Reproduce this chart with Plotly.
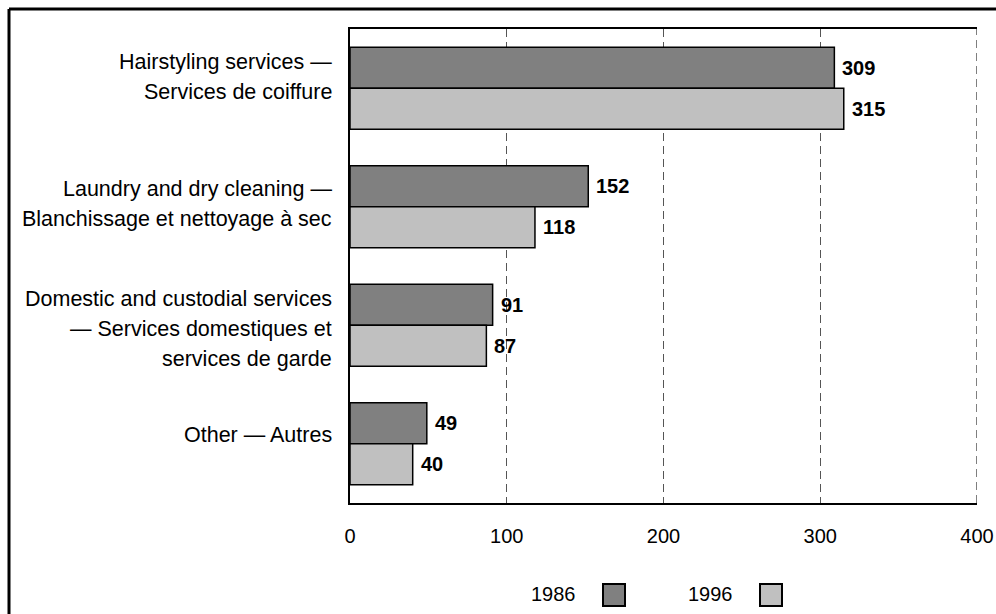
import plotly.graph_objects as go

# Categories (bilingual labels, one entry per line of text)
categories = [
    ["Hairstyling services —", "Services de coiffure"],
    ["Laundry and dry cleaning —", "Blanchissage et nettoyage à sec"],
    ["Domestic and custodial services", "— Services domestiques et", "services de garde"],
    ["Other — Autres"],
]
series_names = ["1986", "1996"]
values_1986 = [309, 152, 91, 49]
values_1996 = [315, 118, 87, 40]
x_ticks = [0, 100, 200, 300, 400]

series_values = [values_1986, values_1996]
series_colors = ["#808080", "#C0C0C0"]

# Figure geometry (pixels)
FIG_W, FIG_H = 996, 614
L, R, T, B = 350, 19, 29, 111
PW, PH = FIG_W - L - R, FIG_H - T - B
BARGAP = 0.31
FONT = "Liberation Sans, Arial, sans-serif"
LINE_PX = 30
GRID_COLOR = "#555555"
GRID_DASH = "8px,5px"
label_nudge_px = [-11, -3, 4, -9]


def px_x(px):
    return (px - L) / PW


def px_y(py):
    return 1 - (py - T) / PH


positions = list(range(len(categories)))

fig = go.Figure()
for name, vals, color in zip(series_names, series_values, series_colors):
    fig.add_trace(go.Bar(
        y=positions, x=vals, orientation="h", name=name,
        marker=dict(color=color, line=dict(color="black", width=1.5)),
        showlegend=False, hoverinfo="x",
    ))

annotations = []
# Value labels next to each bar end
half = (1 - BARGAP) / 4
for k, vals in enumerate(series_values):
    off = -half if k == 0 else half
    for p, v in zip(positions, vals):
        annotations.append(dict(
            x=v, y=p + off, xref="x", yref="y", text=f"<b>{v}</b>",
            showarrow=False, xanchor="left", yanchor="middle", xshift=6,
            font=dict(family=FONT, size=20, color="black"),
        ))

# Category labels, right-aligned to the left of the axis
for p, lines, nudge in zip(positions, categories, label_nudge_px):
    n = len(lines)
    for i, line in enumerate(lines):
        dy = (i - (n - 1) / 2) * LINE_PX + nudge
        annotations.append(dict(
            x=0, y=p, xref="paper", yref="y", text=line,
            showarrow=False, xanchor="right", yanchor="middle",
            xshift=-16, yshift=-dy,
            font=dict(family=FONT, size=21.5, color="black"),
        ))

# Legend: year text followed by a swatch
legend_text_right = [578, 735]
shapes = []
for name, color, xr in zip(series_names, series_colors, legend_text_right):
    annotations.append(dict(
        x=px_x(xr), y=px_y(594), xref="paper", yref="paper", text=name,
        showarrow=False, xanchor="right", yanchor="middle",
        font=dict(family=FONT, size=20, color="black"),
    ))
    shapes.append(dict(
        type="rect", xref="paper", yref="paper",
        x0=px_x(xr + 25), x1=px_x(xr + 47), y0=px_y(606), y1=px_y(584),
        fillcolor=color, line=dict(color="black", width=2),
    ))

# Dashed gridline on the right edge (last tick), which plotly leaves out
shapes.append(dict(type="line", xref="x", yref="paper",
                   x0=x_ticks[-1], x1=x_ticks[-1], y0=0, y1=1,
                   line=dict(color=GRID_COLOR, width=1.5, dash=GRID_DASH)))

# Outer frame (top and left edges)
shapes.append(dict(type="line", xref="paper", yref="paper",
                   x0=px_x(9), x1=px_x(1000), y0=px_y(9), y1=px_y(9),
                   line=dict(color="black", width=3)))
shapes.append(dict(type="line", xref="paper", yref="paper",
                   x0=px_x(9), x1=px_x(9), y0=px_y(9), y1=px_y(620),
                   line=dict(color="black", width=3)))

fig.update_layout(
    width=FIG_W, height=FIG_H, autosize=False,
    margin=dict(l=L, r=R, t=T, b=B, pad=0, autoexpand=False),
    paper_bgcolor="white", plot_bgcolor="white",
    barmode="group", bargap=BARGAP, bargroupgap=0,
    font=dict(family=FONT, size=20, color="black"),
    annotations=annotations, shapes=shapes,
    xaxis=dict(
        range=[0, 400], tickvals=x_ticks, ticktext=[str(t) for t in x_ticks],
        showgrid=True, gridcolor=GRID_COLOR, gridwidth=1, griddash=GRID_DASH,
        zeroline=False, showline=True, linecolor="black", linewidth=1.5,
        mirror=True, ticks="", ticklabelstandoff=14, automargin=False,
        tickfont=dict(family=FONT, size=20, color="black"),
    ),
    yaxis=dict(
        range=[len(categories) - 0.5, -0.5], showticklabels=False,
        showgrid=False, zeroline=False, showline=True, linecolor="black",
        linewidth=1.5, mirror=False, ticks="", automargin=False,
    ),
)

fig.write_html("out.html")
